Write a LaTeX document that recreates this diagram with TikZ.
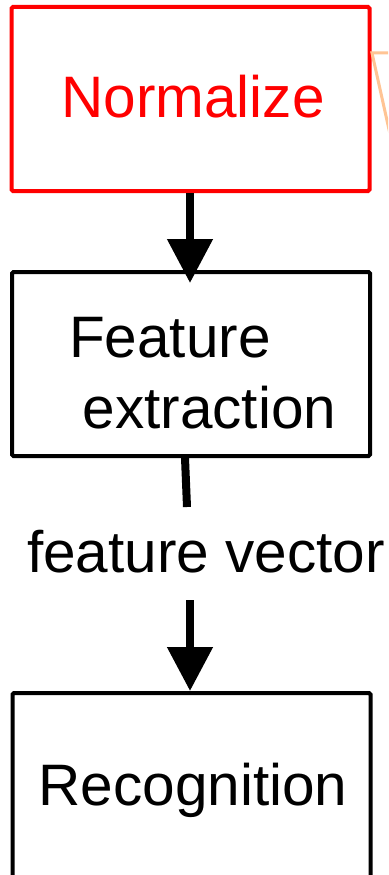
\documentclass[tikz,border=0pt]{standalone}
\usepackage{fontspec}
\setmainfont{Liberation Sans}
\usetikzlibrary{arrows.meta}
\definecolor{callout}{RGB}{255,196,148}
\tikzset{
  stepbox/.style={draw, line width=4pt, rounded corners=1.5pt, minimum width=358pt, inner sep=0pt},
  lbl/.style={font=\fontsize{58.5}{71}\selectfont, inner sep=0pt, anchor=base},
  flow/.style={line width=8pt, -{Triangle[width=44pt,length=44pt]}},
  plain/.style={line width=8pt}
}
\begin{document}
\begin{tikzpicture}[x=1pt,y=-1pt]
  \clip (0,0) rectangle (388,875);
  \fill[white] (0,0) rectangle (388,875);

  % processing stages
  \node[stepbox, red, minimum height=184pt] (norm) at (190.5,99) {};
  \node[lbl, text=red] (normtxt) at (193,117) {Normalize};

  \node[stepbox, minimum height=184pt] (feat) at (191,364) {};
  \node[lbl] (feattxt1) at (170,357) {Feature};
  \node[lbl] (feattxt2) at (209.5,428) {extraction};

  \node[stepbox, minimum height=260pt] (rec) at (191.5,823) {};
  \node[lbl] (rectxt) at (193,805) {Recognition};

  % label on the second link
  \node[lbl] (vec) at (206,572) {feature vector};
  \coordinate (vecA) at (187,507);
  \coordinate (vecB) at (190,600);

  % links
  \draw[flow, shorten >=-13pt] (norm.south -| 190,0) -- (feat.north -| 190,0);
  \draw[plain] (feat.south -| 185,0) -- (vecA);
  \draw[flow] (vecB) -- (rec.north -| 190,0);

  % callout edge on the right
  \coordinate (co) at (372,53);
  \draw[callout, line width=3pt, line join=miter] (400,53) -- (co) -- (392,143);
\end{tikzpicture}
\end{document}
